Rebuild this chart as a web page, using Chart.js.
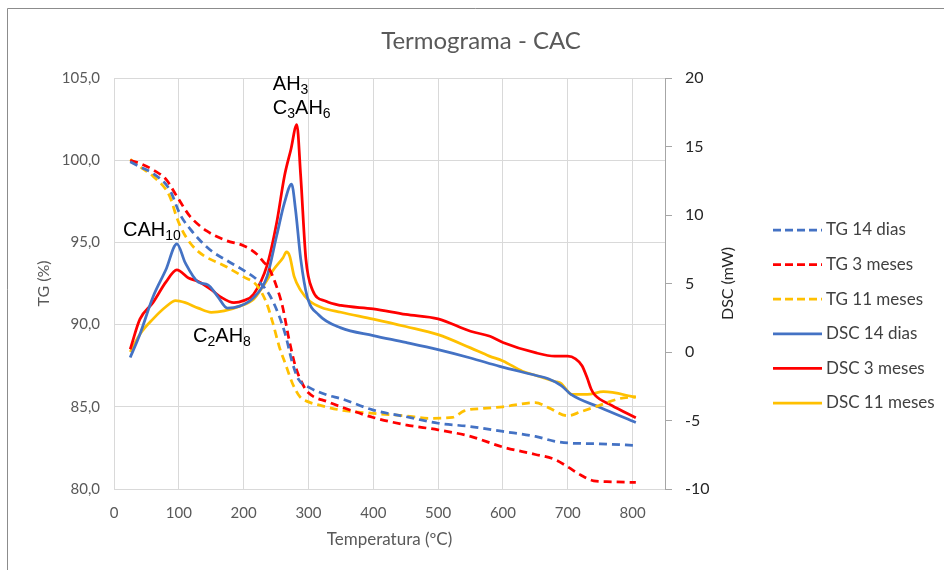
<!DOCTYPE html>
<html>
<head>
<meta charset="utf-8">
<title>Termograma - CAC</title>
<script src="https://cdn.jsdelivr.net/npm/chart.js@4.4.1/dist/chart.umd.min.js"></script>
<style>
  html, body { margin: 0; padding: 0; background: #fff; }
  #wrap { width: 944px; height: 570px; }
</style>
</head>
<body>
<div id="wrap"><canvas id="thermoChart" width="944" height="570"></canvas></div>
<script>
// TG curves (%), left axis
const tg14Temp = [25, 40, 60, 86, 102, 122, 148, 174, 200, 220, 240, 255, 265, 275, 285, 300, 330, 350, 400, 450, 500, 550, 600, 650, 680, 700, 750, 805];
const tg14Vals = [99.9, 99.6, 99.2, 98.2, 96.7, 95.6, 94.55, 93.9, 93.3, 92.75, 91.8, 90.5, 89.3, 87.7, 86.65, 86.2, 85.7, 85.5, 84.8, 84.4, 84.0, 83.8, 83.5, 83.2, 82.9, 82.8, 82.75, 82.65];

const tg3Temp = [25, 40, 61, 81, 97, 117, 143, 174, 200, 220, 230, 240, 250, 260, 270, 280, 290, 300, 330, 350, 400, 450, 500, 550, 600, 650, 680, 700, 720, 740, 760, 805];
const tg3Vals = [100.0, 99.8, 99.4, 98.8, 97.8, 96.6, 95.7, 95.1, 94.8, 94.3, 93.85, 93.35, 92.4, 91.1, 89.1, 87.45, 86.45, 85.85, 85.3, 85.0, 84.35, 83.9, 83.6, 83.2, 82.55, 82.1, 81.8, 81.35, 80.85, 80.5, 80.45, 80.4];

const tg11Temp = [25, 40, 61, 86, 97, 107, 127, 174, 200, 220, 235, 245, 255, 265, 275, 287, 300, 317, 350, 400, 450, 486, 522, 540, 570, 600, 650, 670, 700, 720, 750, 780, 805];
const tg11Vals = [100.05, 99.6, 99.0, 97.8, 96.5, 95.6, 94.55, 93.5, 92.9, 92.4, 91.35, 90.1, 88.65, 87.55, 86.45, 85.6, 85.3, 85.1, 84.8, 84.6, 84.45, 84.3, 84.35, 84.75, 84.9, 85.0, 85.25, 84.95, 84.45, 84.7, 85.1, 85.5, 85.6];

// DSC curves (mW), right axis
const dsc14Temp = [25, 40, 60, 80, 97, 110, 130, 145, 160, 175, 194, 215, 236, 251, 263, 274, 280, 288, 298, 316, 350, 400, 450, 500, 550, 595, 650, 670, 690, 705, 750, 805];
const dsc14Vals = [-0.4, 1.3, 4.0, 6.0, 7.9, 6.5, 5.1, 4.9, 4.05, 3.2, 3.35, 3.95, 5.5, 8.5, 10.9, 12.25, 10.4, 6.8, 4.05, 2.7, 1.76, 1.2, 0.7, 0.17, -0.44, -1.05, -1.7, -1.95, -2.45, -3.1, -4.05, -5.15];

const dsc3Temp = [25, 40, 60, 80, 97, 115, 130, 150, 165, 185, 200, 215, 236, 251, 263, 273, 282, 288, 296, 306, 327, 350, 400, 450, 500, 550, 580, 600, 650, 680, 700, 712, 722, 730, 736, 742, 768, 805];
const dsc3Vals = [0.2, 2.4, 3.6, 5.1, 6.0, 5.4, 5.15, 4.55, 4.0, 3.6, 3.75, 4.2, 6.3, 9.45, 12.85, 14.8, 16.6, 12.85, 6.8, 4.55, 3.7, 3.4, 3.15, 2.74, 2.42, 1.51, 1.15, 0.7, -0.05, -0.3, -0.3, -0.5, -1.0, -1.9, -2.7, -3.15, -3.9, -4.8];

const dsc11Temp = [25, 40, 60, 80, 95, 110, 130, 150, 170, 194, 215, 230, 246, 261, 266, 271, 278, 288, 302, 320, 350, 400, 450, 500, 550, 579, 600, 630, 650, 680, 690, 698, 706, 730, 755, 805];
const dsc11Vals = [0.0, 1.3, 2.4, 3.3, 3.75, 3.6, 3.2, 2.9, 3.0, 3.35, 3.83, 4.8, 6.0, 6.9, 7.3, 7.0, 5.5, 4.5, 3.7, 3.25, 2.9, 2.4, 1.86, 1.27, 0.3, -0.3, -0.65, -1.4, -1.7, -2.15, -2.3, -2.75, -3.1, -3.1, -2.9, -3.3];

const seriesNames = ['TG 14 dias', 'TG 3 meses', 'TG 11 meses', 'DSC 14 dias', 'DSC 3 meses', 'DSC 11 meses'];
const tempTicks = [0, 100, 200, 300, 400, 500, 600, 700, 800];

// phase labels, anchored at (temperature, DSC value)
const phaseLabels = [
  { parts: [['CAH', false], ['10', true]], t: 14, dsc: 8.45 },
  { parts: [['C', false], ['2', true], ['AH', false], ['8', true]], t: 122, dsc: 0.7 },
  { parts: [['AH', false], ['3', true]], t: 245, dsc: 19.1 },
  { parts: [['C', false], ['3', true], ['AH', false], ['6', true]], t: 245, dsc: 17.35 }
];

const BLUE = '#4472C4';
const RED = '#FF0000';
const GOLD = '#FFC000';
const GRID = '#d9d9d9';
const TXT = '#595959';

const pairUp = (temps, vals) => temps.map((t, i) => ({ x: t, y: vals[i] }));

const makeSet = (label, temps, vals, color, dashed, axis) => ({
  label,
  data: pairUp(temps, vals),
  borderColor: color,
  backgroundColor: color,
  borderWidth: 2.75,
  borderDash: dashed ? [8, 5] : [],
  pointRadius: 0,
  fill: false,
  cubicInterpolationMode: 'monotone',
  yAxisID: axis
});

// background, frame, title, right axis title, phase labels and legend
const decorPlugin = {
  id: 'decor',
  beforeDraw(chart) {
    const ctx = chart.ctx;
    ctx.save();
    ctx.fillStyle = '#fff';
    ctx.fillRect(0, 0, chart.width, chart.height);
    ctx.strokeStyle = '#8c8c8c';
    ctx.lineWidth = 1;
    ctx.beginPath();
    ctx.moveTo(7.5, chart.height);
    ctx.lineTo(7.5, 8.5);
    ctx.lineTo(chart.width, 8.5);
    ctx.stroke();
    ctx.restore();
  },
  afterDraw(chart) {
    const ctx = chart.ctx;
    const xs = chart.scales.x;
    const yr = chart.scales.y1;
    ctx.save();

    ctx.fillStyle = TXT;
    ctx.font = '24px Lato';
    ctx.textAlign = 'center';
    ctx.textBaseline = 'middle';
    ctx.fillText('Termograma - CAC', 481, 41);

    ctx.save();
    ctx.translate(728, (chart.chartArea.top + chart.chartArea.bottom) / 2);
    ctx.rotate(-Math.PI / 2);
    ctx.fillStyle = '#262626';
    ctx.font = '16px Lato';
    ctx.fillText('DSC (mW)', 0, 0);
    ctx.restore();

    ctx.textAlign = 'left';
    ctx.textBaseline = 'alphabetic';
    ctx.fillStyle = '#000';
    phaseLabels.forEach(lbl => {
      let cx = xs.getPixelForValue(lbl.t);
      const by = yr.getPixelForValue(lbl.dsc);
      lbl.parts.forEach(([txt, sub]) => {
        ctx.font = sub ? '14px "Liberation Sans"' : '20px "Liberation Sans"';
        ctx.fillText(txt, cx, sub ? by + 4 : by);
        cx += ctx.measureText(txt).width;
      });
    });

    ctx.font = '17px Lato';
    ctx.textBaseline = 'middle';
    chart.data.datasets.forEach((ds, i) => {
      const y = 230 + i * 34.6;
      ctx.strokeStyle = ds.borderColor;
      ctx.lineWidth = 2.75;
      ctx.setLineDash(ds.borderDash.length ? [8, 4] : []);
      ctx.beginPath();
      ctx.moveTo(773, y);
      ctx.lineTo(822, y);
      ctx.stroke();
      ctx.setLineDash([]);
      ctx.fillStyle = '#404040';
      ctx.fillText(ds.label, 826, y);
    });
    ctx.restore();
  }
};

document.addEventListener('DOMContentLoaded', () => {
  try {
    const canvas = document.getElementById('thermoChart');
    const ctx = canvas.getContext('2d');

    new Chart(ctx, {
      type: 'line',
      data: {
        datasets: [
          makeSet(seriesNames[0], tg14Temp, tg14Vals, BLUE, true, 'y'),
          makeSet(seriesNames[1], tg3Temp, tg3Vals, RED, true, 'y'),
          makeSet(seriesNames[2], tg11Temp, tg11Vals, GOLD, true, 'y'),
          makeSet(seriesNames[3], dsc14Temp, dsc14Vals, BLUE, false, 'y1'),
          makeSet(seriesNames[4], dsc3Temp, dsc3Vals, RED, false, 'y1'),
          makeSet(seriesNames[5], dsc11Temp, dsc11Vals, GOLD, false, 'y1')
        ]
      },
      options: {
        responsive: false,
        animation: false,
        devicePixelRatio: 1,
        layout: { padding: { top: 78, left: 0, right: 199, bottom: 0 } },
        plugins: {
          legend: { display: false },
          title: { display: false },
          tooltip: { enabled: false }
        },
        scales: {
          x: {
            type: 'linear',
            min: 0,
            max: 850,
            afterFit: axis => { axis.height = 81; },
            afterBuildTicks: axis => { axis.ticks = tempTicks.map(v => ({ value: v })); },
            ticks: { padding: 15, color: TXT, font: { family: 'Lato', size: 15 } },
            grid: { color: GRID, drawTicks: false },
            border: { color: GRID },
            title: {
              display: true,
              text: 'Temperatura (ºC)',
              color: TXT,
              font: { family: 'Lato', size: 17 },
              padding: { top: 0, bottom: 20 }
            }
          },
          y: {
            position: 'left',
            min: 80,
            max: 105,
            afterFit: axis => { axis.width = 114; },
            ticks: {
              stepSize: 5,
              padding: 14,
              color: TXT,
              font: { family: 'Lato', size: 15 },
              callback: v => v.toFixed(1).replace('.', ',')
            },
            grid: { color: GRID, drawTicks: false },
            border: { color: GRID },
            title: {
              display: true,
              text: 'TG (%)',
              color: TXT,
              font: { family: 'Lato', size: 16 },
              padding: { top: 34, bottom: 0 }
            }
          },
          y1: {
            position: 'right',
            min: -10,
            max: 20,
            afterFit: axis => { axis.width = 80; },
            ticks: { stepSize: 5, padding: 13, color: '#262626', font: { family: 'Lato', size: 16 } },
            grid: { drawOnChartArea: false, drawTicks: true, tickLength: 7, tickColor: '#a6a6a6' },
            border: { color: '#a6a6a6' }
          }
        }
      },
      plugins: [decorPlugin]
    });
  } catch (err) {
    console.error('Error rendering chart:', err);
  }
});
</script>
</body>
</html>
